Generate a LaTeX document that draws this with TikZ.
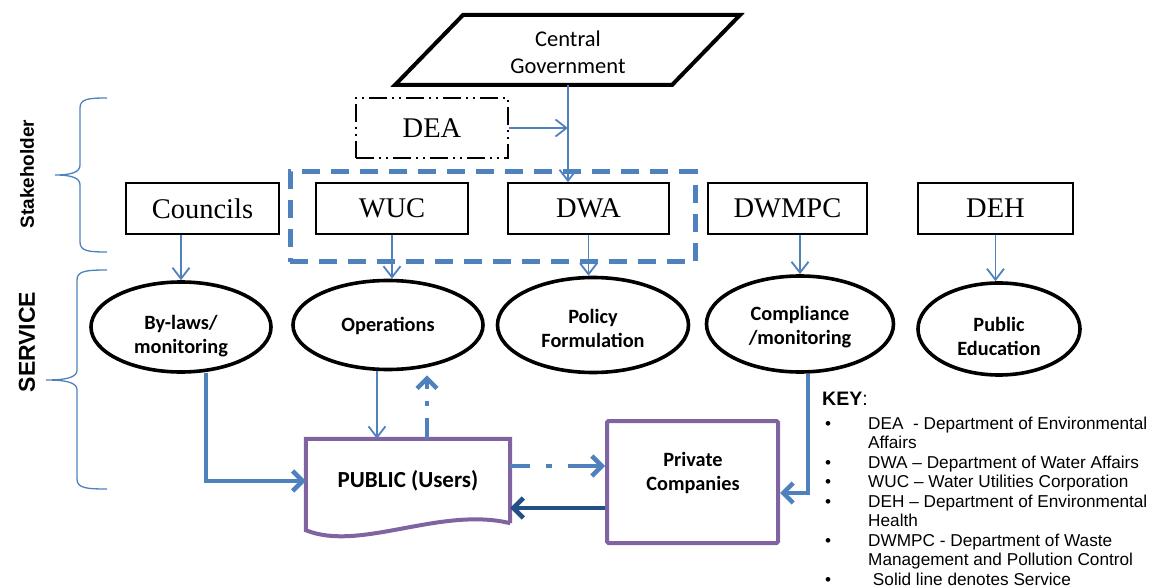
\documentclass[tikz,border=0pt]{standalone}
\usepackage{fontspec}
\setmainfont{Liberation Serif}
\setsansfont{Liberation Sans}
\newfontfamily\carl{Carlito}
\usetikzlibrary{arrows.meta,shapes.geometric,calc}
\definecolor{ablue}{HTML}{4F81BD}
\definecolor{apurple}{HTML}{8064A2}
\definecolor{adark}{HTML}{234F87}
\begin{document}
\begin{tikzpicture}[x=1pt,y=-1pt,
  sbox/.style={draw=black,line width=1.6pt,inner sep=0pt,minimum height=51,font=\fontsize{28.5}{30}\selectfont},
  oval/.style={ellipse,draw=black,line width=3.6pt,inner sep=0pt},
  otext/.style={align=center,inner sep=0pt,font=\carl\bfseries\fontsize{20.3}{24}\selectfont},
  tarr/.style={draw=ablue,line width=1.8pt,-{Straight Barb[length=11pt,width=17pt]}},
  karr/.style={draw=ablue,line width=4.5pt,-{Straight Barb[length=10pt,width=20pt]}},
  keyline/.style={anchor=base west,inner sep=0pt,font=\sffamily\fontsize{17.2}{19}\selectfont},
  brace/.style={draw=ablue,line width=1.3pt},
]
\useasboundingbox (0,0) rectangle (1160,588);

% braces and side labels
\draw[brace] (107,98) .. controls (88,98) and (80,99) .. (80,108) -- (80,165)
  .. controls (80,172) and (72,175) .. (55,175) .. controls (72,175) and (80,178) .. (80,185)
  -- (80,242) .. controls (80,251) and (88,252) .. (107,252);
\draw[brace] (107,270) .. controls (86,270) and (77,271) .. (77,280) -- (77,370)
  .. controls (77,377) and (68,380) .. (46,380) .. controls (68,380) and (77,383) .. (77,390)
  -- (77,479) .. controls (77,488) and (86,489) .. (107,489);
\node[rotate=90,font=\sffamily\bfseries\fontsize{19}{22}\selectfont] (stk) at (27,174) {Stakeholder};
\node[rotate=90,font=\sffamily\bfseries\fontsize{23}{26}\selectfont] (svc) at (27,342) {SERVICE};

% central government
\draw[line width=4pt,line join=miter] (463,15) -- (740,15) -- (672,85) -- (395,85) -- cycle;
\node[align=center,font=\carl\fontsize{22.5}{27}\selectfont] (cg) at (568,52) {Central\\Government};
\coordinate (cgb) at (568,85);

% DEA
\node[draw=black,line width=1.6pt,dash pattern=on 18pt off 5pt on 2pt off 5pt on 2pt off 5pt,
  minimum width=152,minimum height=60,inner sep=0pt,font=\fontsize{28.5}{30}\selectfont] (dea) at (432,128) {DEA};

% group rectangle
\node[draw=ablue,line width=5pt,dash pattern=on 18pt off 11pt,minimum width=405,minimum height=90] (grp) at (492.5,217) {};

% stakeholder boxes
\node[sbox,minimum width=153] (cou) at (202.5,208.5) {Councils};
\node[sbox,minimum width=152] (wuc) at (392,208.5) {WUC};
\node[sbox,minimum width=161] (dwa) at (588.5,208.5) {DWA};
\node[sbox,minimum width=159] (dwm) at (787.5,208.5) {DWMPC};
\node[sbox,minimum width=155] (deh) at (995.5,208.5) {DEH};

% service ellipses
\node[oval,minimum width=180,minimum height=90] (byl) at (181,327) {};
\node[otext] (bylt) at (181,336) {By-laws/\\monitoring};
\node[oval,minimum width=190,minimum height=89] (ops) at (388,325) {};
\node[otext] (opst) at (388,326) {Operations};
\node[oval,minimum width=191,minimum height=95] (pol) at (593,325) {};
\node[otext] (polt) at (593,328) {Policy\\Formulation};
\node[oval,minimum width=187,minimum height=96] (cmp) at (800,324) {};
\node[otext] (cmpt) at (800,327) {Compliance\\/monitoring};
\node[oval,minimum width=162,minimum height=92] (edu) at (999,329) {};
\node[otext] (edut) at (999,336) {Public\\Education};

% public and private
\node[inner sep=0pt,minimum width=204,minimum height=84,font=\carl\bfseries\fontsize{23}{24}\selectfont] (pub) at (408,481) {PUBLIC (Users)};
\draw[apurple,line width=4pt,line join=miter] (pub.south east) -- (pub.north east) -- (pub.north west)
  -- ($(pub.south west)+(0,7)$) .. controls +(54,22) and +(-70,-17) .. (pub.south east);
\node[draw=apurple,line width=4pt,rounded corners=1.5pt,minimum width=171,minimum height=122] (prv) at (692.5,482) {};
\node[otext] (prvt) at (693,473) {Private\\Companies};

% connectors
\draw[tarr] (cgb) -- (cgb |- dwa.north);
\draw[tarr] (dea.east) -- (dea.east -| cgb);
\draw[tarr] (byl.north |- cou.south) -- (byl.north);
\draw[tarr] (wuc.south) -- (wuc.south |- ops.north);
\draw[tarr] (dwa.south) -- (dwa.south |- pol.north);
\draw[tarr] (cmp.north |- dwm.south) -- (cmp.north);
\draw[tarr] (deh.south) -- (deh.south |- edu.north);

\draw[karr] ($(byl.south)+(25,-1)$) |- (pub.west);
\draw[tarr] ($(ops.south)+(-11,0)$) -- ($(pub.north)+(-31,0)$);
\draw[karr,dash pattern=on 21pt off 12pt on 5pt off 12pt on 30pt] ($(pub.north)+(19,0)$) -- ($(ops.south)+(39,4)$);
\draw[karr,dash pattern=on 20pt off 16pt on 6pt off 16pt on 40pt off 10pt] ($(pub.east)+(0,-15)$) -- ($(prv.west)+(0,-16)$);
\draw[karr,draw=adark] ($(prv.west)+(0,26)$) -- ($(pub.east)+(0,27)$);
\draw[karr] ($(cmp.south)+(8,0)$) |- ($(prv.east)+(0,11)$);

% key
\node[keyline,font=\sffamily\fontsize{19.5}{21}\selectfont] (k0) at (822,405) {\textbf{KEY}:};
\node[keyline] (k1) at (825,429) {\makebox[43pt][l]{\textbullet}DEA\ \ - Department of Environmental};
\node[keyline] (k2) at (868,448.5) {Affairs};
\node[keyline] (k3) at (825,468) {\makebox[43pt][l]{\textbullet}DWA – Department of Water Affairs};
\node[keyline] (k4) at (825,487.5) {\makebox[43pt][l]{\textbullet}WUC – Water Utilities Corporation};
\node[keyline] (k5) at (825,507) {\makebox[43pt][l]{\textbullet}DEH – Department of Environmental};
\node[keyline] (k6) at (868,526.5) {Health};
\node[keyline] (k7) at (825,546) {\makebox[43pt][l]{\textbullet}DWMPC - Department of Waste};
\node[keyline] (k8) at (868,565.5) {Management and Pollution Control};
\node[keyline] (k9) at (825,585) {\makebox[43pt][l]{\textbullet}\ Solid line denotes Service};
\end{tikzpicture}
\end{document}
